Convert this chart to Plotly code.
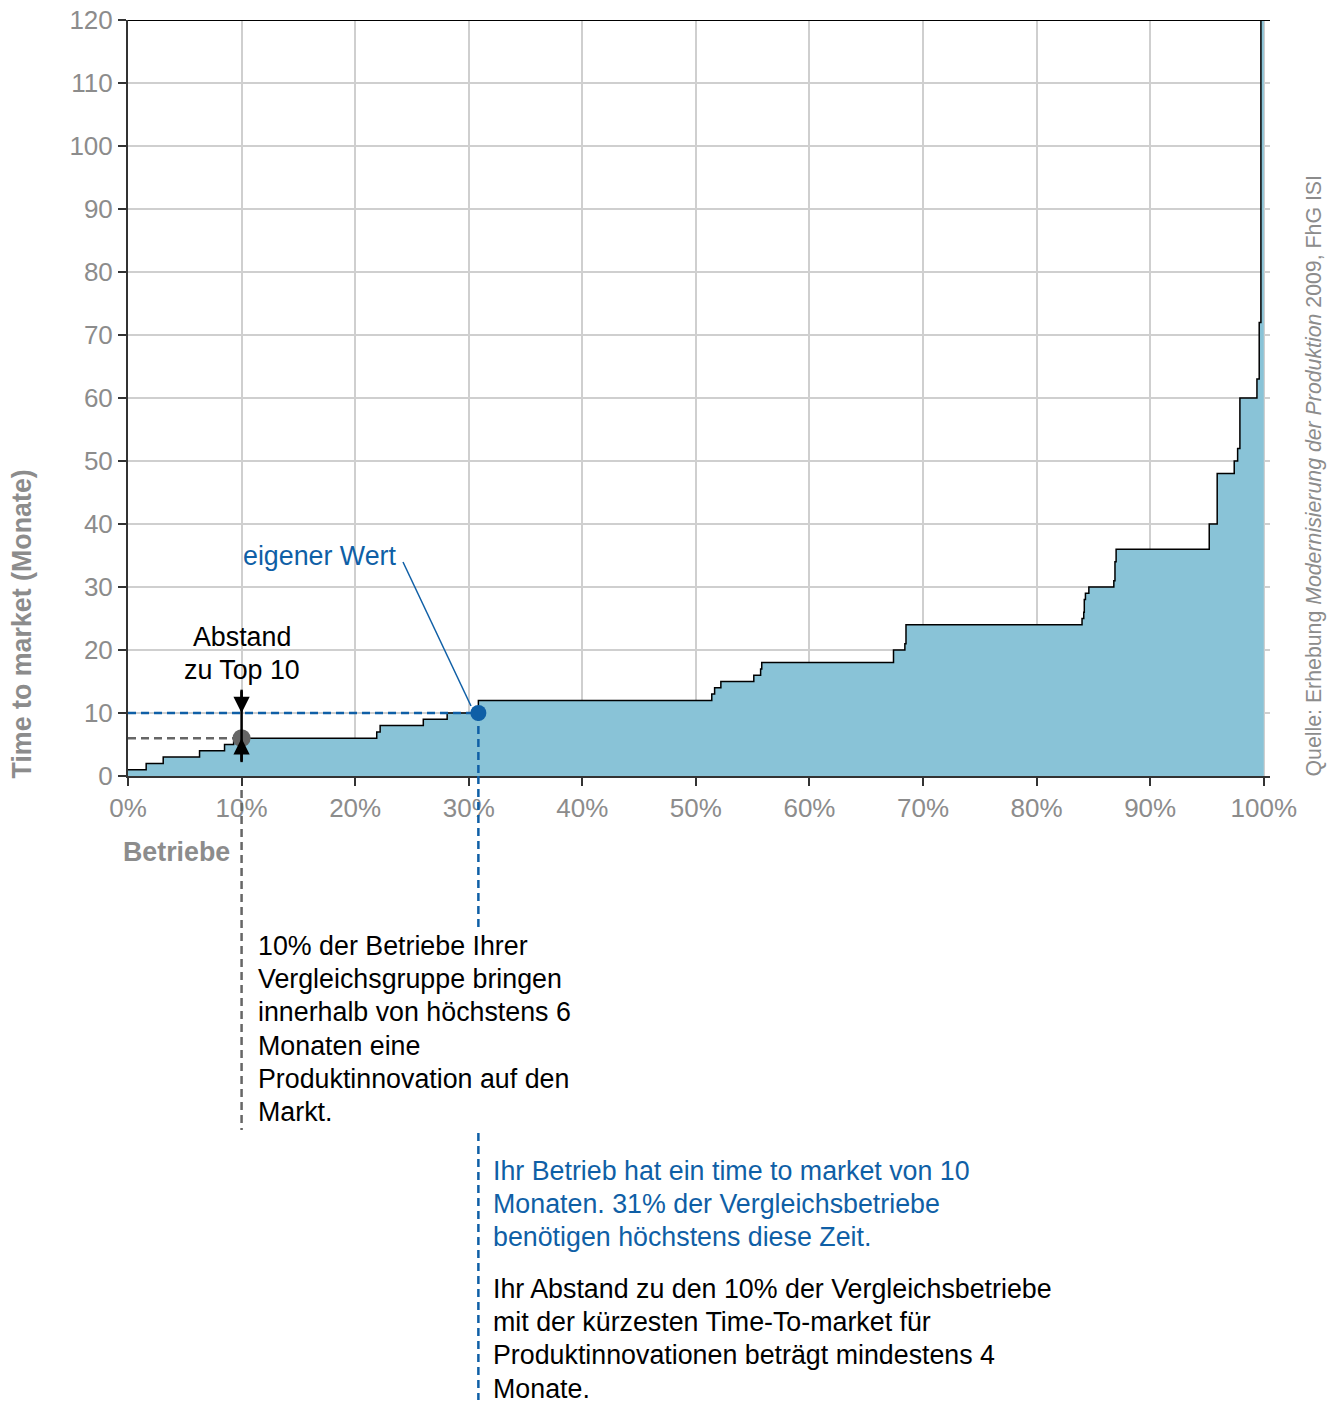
import plotly.graph_objects as go

# ---- data ----
step_x = [0, 1.6, 3.1, 6.3, 8.5, 9.3, 21.9, 22.2, 26.0, 28.1, 30.85, 51.4, 51.65, 52.2,
          55.1, 55.7, 55.8, 67.4, 68.4, 68.5, 84.0, 84.15, 84.2, 84.3, 84.6, 86.8, 86.9,
          87.0, 95.2, 95.9, 97.4, 97.7, 97.9, 99.4, 99.6, 99.75, 100]
step_y = [1, 2, 3, 4, 5, 6, 7, 8, 9, 10, 12, 13, 14, 15,
          16, 17, 18, 20, 21, 24, 25, 26, 28, 29, 30, 31, 34,
          36, 40, 48, 50, 52, 60, 63, 72, 120, 120]

own_x, own_y = 30.85, 10          # eigener Wert
top10_x, top10_y = 10, 6          # Top 10 %
x_ticks = [0, 10, 20, 30, 40, 50, 60, 70, 80, 90, 100]
x_ticklabels = [f"{v}%" for v in x_ticks]
y_ticks = list(range(0, 121, 10))

text_top10 = ["10% der Betriebe Ihrer", "Vergleichsgruppe bringen", "innerhalb von höchstens 6",
              "Monaten eine", "Produktinnovation auf den", "Markt."]
text_own = ["Ihr Betrieb hat ein time to market von 10", "Monaten. 31% der Vergleichsbetriebe",
            "benötigen höchstens diese Zeit."]
text_gap = ["Ihr Abstand zu den 10% der Vergleichsbetriebe", "mit der kürzesten Time-To-market für",
            "Produktinnovationen beträgt mindestens 4", "Monate."]

# ---- style ----
FONT = "Liberation Sans, Arial, sans-serif"
GRAY = "#8c8c8c"
BLUE = "#0f5fa6"
FILL = "#89c3d7"
AX = "#333333"
FS = 26
FA = 26.8
LINE_H = 33.2

L, T, W_PLOT, H_PLOT = 128, 20, 1142, 756


def px(xp):
    return (xp - L) / W_PLOT


def py(yp):
    return (T + H_PLOT - yp) / H_PLOT


fig = go.Figure()
fig.add_trace(go.Scatter(
    x=step_x, y=step_y, mode="lines", line=dict(shape="hv", color="black", width=1.5),
    fill="tozeroy", fillcolor=FILL, hoverinfo="skip", showlegend=False))

DASH = "8px,5px"
shapes = []
shapes.append(dict(type="line", xref="paper", yref="y", x0=0, x1=1, y0=120, y1=120,
                   line=dict(color="black", width=2), layer="above"))
shapes.append(dict(type="line", xref="x", yref="y", x0=0, x1=own_x, y0=own_y, y1=own_y,
                   line=dict(color=BLUE, width=2.5, dash=DASH)))
shapes.append(dict(type="line", xref="x", yref="y", x0=own_x, x1=own_x, y0=own_y, y1=0,
                   line=dict(color=BLUE, width=2.5, dash=DASH)))
shapes.append(dict(type="line", xref="x", yref="paper", x0=own_x, x1=own_x, y0=0, y1=py(928),
                   line=dict(color=BLUE, width=2.5, dash=DASH)))
shapes.append(dict(type="line", xref="x", yref="paper", x0=own_x, x1=own_x, y0=py(1133), y1=py(1400),
                   line=dict(color=BLUE, width=2.5, dash=DASH)))
shapes.append(dict(type="line", xref="x", yref="y", x0=0, x1=top10_x, y0=top10_y, y1=top10_y,
                   line=dict(color="#666666", width=2.5, dash=DASH)))
shapes.append(dict(type="line", xref="x", yref="paper", x0=top10_x, x1=top10_x, y0=py(790), y1=py(1130),
                   line=dict(color="#666666", width=2.5, dash=DASH)))
shapes.append(dict(type="line", xref="x", yref="y", x0=top10_x, x1=top10_x, y0=13.7, y1=2.2,
                   line=dict(color="black", width=2.5)))
shapes.append(dict(type="line", xref="paper", yref="paper", x0=px(403), y0=py(562), x1=px(471), y1=py(706),
                   line=dict(color=BLUE, width=1.5)))

fig.add_trace(go.Scatter(x=[top10_x], y=[top10_y], mode="markers",
                         marker=dict(color="#666666", size=18), hoverinfo="skip", showlegend=False))
fig.add_trace(go.Scatter(x=[own_x], y=[own_y], mode="markers",
                         marker=dict(color=BLUE, size=16), hoverinfo="skip", showlegend=False))

ann = []
ann.append(dict(x=top10_x, y=own_y, ax=top10_x, ay=13.7, xref="x", yref="y", axref="x", ayref="y",
                text="", showarrow=True, arrowhead=2, arrowsize=1.3, arrowwidth=2.5, arrowcolor="black"))
ann.append(dict(x=top10_x, y=top10_y, ax=top10_x, ay=2.2, xref="x", yref="y", axref="x", ayref="y",
                text="", showarrow=True, arrowhead=2, arrowsize=1.3, arrowwidth=2.5, arrowcolor="black"))


def text_block(lines, x_px, y_first, color, anchor="left"):
    for i, line in enumerate(lines):
        ann.append(dict(x=px(x_px), y=py(y_first + i * LINE_H), xref="paper", yref="paper",
                        text=line, showarrow=False, xanchor=anchor, yanchor="middle",
                        font=dict(family=FONT, size=FA, color=color)))


text_block(["Abstand", "zu Top 10"], 242, 637, "black", anchor="center")
text_block(["eigener Wert"], 241, 556, BLUE)
text_block(text_top10, 256, 946, "black")
text_block(text_own, 491, 1171, BLUE)
text_block(text_gap, 491, 1289, "black")

ann.append(dict(x=px(22), y=py(781), xref="paper", yref="paper", text="<b>Time to market (Monate)</b>",
                textangle=-90, showarrow=False, xanchor="center", yanchor="bottom",
                font=dict(family=FONT, size=FA, color=GRAY)))
ann.append(dict(x=px(176), y=py(852), xref="paper", yref="paper", text="<b>Betriebe</b>",
                showarrow=False, xanchor="center", yanchor="middle",
                font=dict(family=FONT, size=FA, color=GRAY)))
ann.append(dict(x=px(1313), y=py(779), xref="paper", yref="paper",
                text="Quelle: Erhebung <i>Modernisierung der Produktion</i> 2009, FhG ISI",
                textangle=-90, showarrow=False, xanchor="center", yanchor="bottom",
                font=dict(family=FONT, size=21.3, color=GRAY)))

fig.update_layout(
    width=1337, height=1403,
    margin=dict(l=L, r=1337 - L - W_PLOT, t=T, b=1403 - T - H_PLOT),
    paper_bgcolor="white", plot_bgcolor="white",
    shapes=shapes, annotations=ann, showlegend=False,
    font=dict(family=FONT),
    xaxis=dict(range=[0, 100.55], tickvals=x_ticks, ticktext=x_ticklabels, automargin=False,
               showgrid=True, gridcolor="#cfcfcf", gridwidth=1.5, zeroline=False,
               showline=True, linecolor=AX, linewidth=2, ticklabeloverflow="allow",
               ticks="outside", ticklen=8, tickcolor=AX, tickwidth=2,
               tickfont=dict(family=FONT, size=FS, color=GRAY)),
    yaxis=dict(range=[0, 120], tickvals=y_ticks, automargin=False,
               showgrid=True, gridcolor="#cfcfcf", gridwidth=1.5, zeroline=False,
               showline=True, linecolor=AX, linewidth=2, ticklabeloverflow="allow",
               ticks="outside", ticklen=8, tickcolor=AX, tickwidth=2,
               tickfont=dict(family=FONT, size=FS, color=GRAY)),
)

# let the figure sit at the very top-left corner of the page, without the mode bar
fig.write_html("out.html", config={"displayModeBar": False},
               post_script="document.body.style.margin='0';")
